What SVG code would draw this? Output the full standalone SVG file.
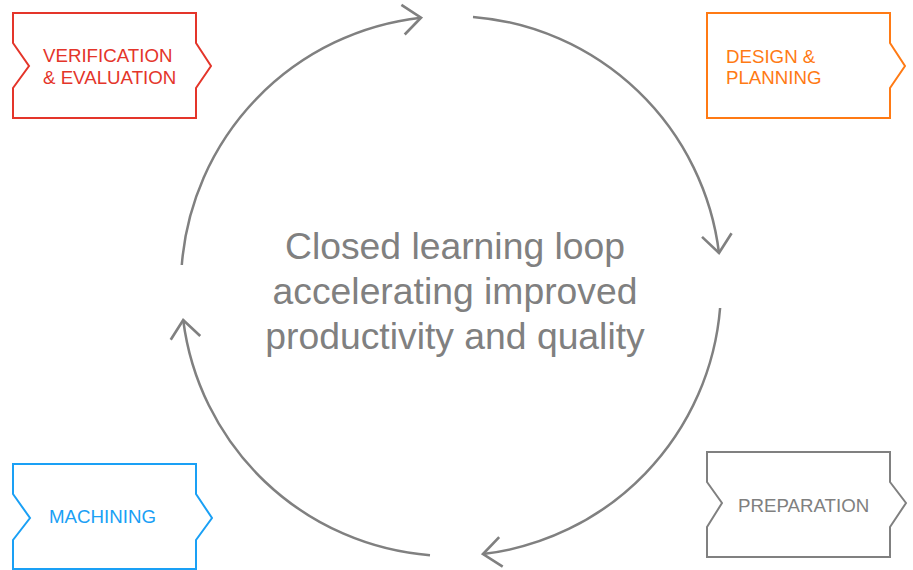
<svg xmlns="http://www.w3.org/2000/svg" width="913" height="570" viewBox="0 0 913 570">
<defs>
<style>
.box{fill:#fff;stroke-width:2;stroke-linejoin:miter}
.lbl{font-family:"Liberation Sans",Arial,sans-serif;font-size:18.7px}
.conn{fill:none;stroke:#808080;stroke-width:2.5}
.center{font-family:"Liberation Sans",Arial,sans-serif;font-size:37.3px;fill:#808080;text-anchor:middle}
</style>
<marker id="arrow" markerUnits="userSpaceOnUse" markerWidth="30" markerHeight="34" viewBox="-20 -16 22 32" refX="0" refY="0" orient="auto">
<path d="M-17,-14 L0,0 L-17,14" fill="none" stroke="#808080" stroke-width="2.5"/>
</marker>
</defs>
<rect width="913" height="570" fill="#fff"/>
<g id="connectors">
<path class="conn" marker-end="url(#arrow)" d="M181.8,265 A270,270 0 0 1 421,17.7"/>
<path class="conn" marker-end="url(#arrow)" d="M473,16.9 A270,270 0 0 1 719,253"/>
<path class="conn" marker-end="url(#arrow)" d="M720.1,308 A270,270 0 0 1 483,554.1"/>
<path class="conn" marker-end="url(#arrow)" d="M430,555.2 A270,270 0 0 1 183.2,320"/>
</g>
<g id="center-text">
<text class="center" x="455" y="259">Closed learning loop</text>
<text class="center" x="455" y="304">accelerating improved</text>
<text class="center" x="455" y="349">productivity and quality</text>
</g>
<g id="verification">
<path class="box" stroke="#E4352A" d="M13,13 H196 V43 L211,66 L196,88 V118 H13 V88 L29,66 L13,43 Z"/>
<text class="lbl" fill="#E4352A" x="43" y="62">VERIFICATION</text>
<text class="lbl" fill="#E4352A" x="43" y="84">&amp; EVALUATION</text>
</g>
<g id="design">
<path class="box" stroke="#FF7A14" d="M707,13 H890 V43 L905,66 L890,88 V118 H707 Z"/>
<text class="lbl" fill="#FF7A14" x="726" y="63">DESIGN &amp;</text>
<text class="lbl" fill="#FF7A14" x="726" y="84">PLANNING</text>
</g>
<g id="preparation">
<path class="box" stroke="#808080" d="M707,452 H890 V482 L906,503 L890,527 V557 H707 V527 L722,503 L707,482 Z"/>
<text class="lbl" fill="#808080" x="738" y="512">PREPARATION</text>
</g>
<g id="machining">
<path class="box" stroke="#1AA0F5" d="M13,464 H196 V494 L212,518 L196,540 V569 H13 V540 L30,518 L13,494 Z"/>
<text class="lbl" fill="#1AA0F5" x="49" y="523">MACHINING</text>
</g>
</svg>
